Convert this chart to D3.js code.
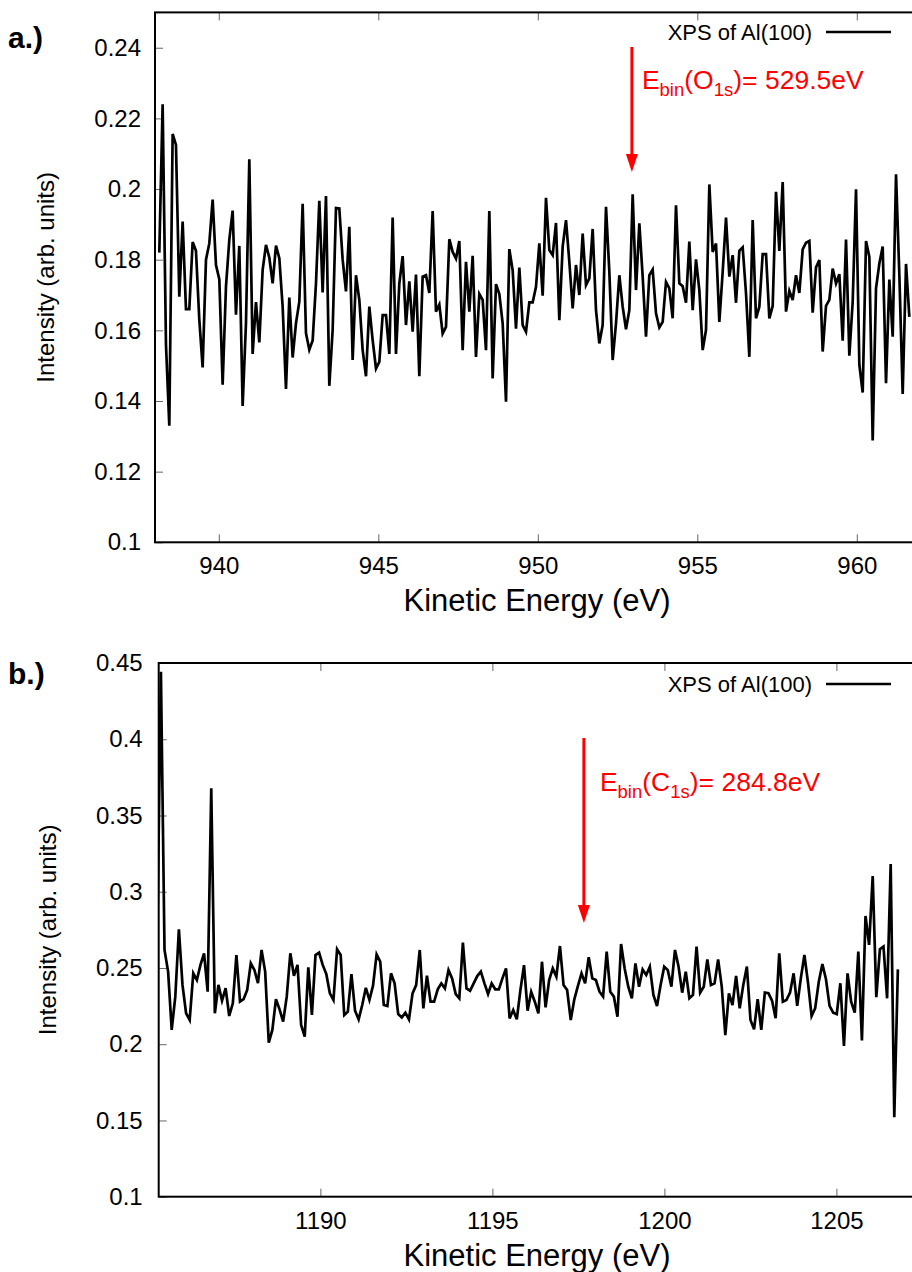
<!DOCTYPE html>
<html>
<head>
<meta charset="utf-8">
<script src="https://cdn.jsdelivr.net/npm/d3@7"></script>
<style>
  body { margin: 0; background: #fff; }
  svg { display: block; font-family: "Liberation Sans", Arial, sans-serif; }
</style>
</head>
<body>
<div class="canvas"></div>
<script>
// energy grid of the spectra (eV)
const stepEV = 0.1045;
const topStartEV = 938.135;
const bottomStartEV = 1185.26;

// a.) O1s region
const topIntensity = [
  0.182, 0.224, 0.156, 0.133, 0.2156, 0.2125, 0.1695, 0.1908, 0.166, 0.166,
  0.185, 0.1825, 0.163, 0.1495, 0.180, 0.1846, 0.197, 0.1785, 0.1745, 0.1446,
  0.1724, 0.1856, 0.1939, 0.1644, 0.1839, 0.1386, 0.162, 0.2084, 0.1533, 0.168,
  0.1566, 0.1771, 0.1842, 0.1806, 0.1733, 0.184, 0.1804, 0.1667, 0.1434, 0.1693,
  0.1523, 0.162, 0.1681, 0.1958, 0.1592, 0.1545, 0.1571, 0.1733, 0.1967, 0.1707,
  0.198, 0.1443, 0.1601, 0.1946, 0.1945, 0.180, 0.171, 0.1893, 0.1516, 0.1756,
  0.1686, 0.1544, 0.147, 0.1667, 0.1572, 0.1492, 0.1511, 0.1643, 0.1643, 0.1533,
  0.1919, 0.1533, 0.1733, 0.181, 0.1615, 0.1739, 0.1596, 0.1758, 0.147, 0.1752,
  0.1756, 0.1706, 0.1938, 0.1653, 0.1673, 0.1591, 0.161, 0.1858, 0.1822, 0.1803,
  0.1853, 0.1544, 0.1794, 0.1653, 0.1811, 0.1525, 0.1703, 0.1686, 0.1544, 0.1938,
  0.1464, 0.1731, 0.1703, 0.162, 0.1398, 0.183, 0.177, 0.1605, 0.1778, 0.1615,
  0.1596, 0.1679, 0.1679, 0.1723, 0.1846, 0.1698, 0.1975, 0.1827, 0.1813, 0.1904,
  0.1629, 0.1837, 0.1912, 0.1794, 0.1662, 0.1785, 0.17, 0.1874, 0.1728, 0.1747,
  0.1887, 0.1657, 0.1563, 0.1615, 0.195, 0.1766, 0.1516, 0.162, 0.1756, 0.1667,
  0.1603, 0.1657, 0.1985, 0.1714, 0.1903, 0.1752, 0.1582, 0.1756, 0.1772, 0.1648,
  0.1608, 0.1624, 0.1737, 0.1719, 0.1634, 0.1954, 0.1733, 0.1725, 0.1678, 0.1851,
  0.1657, 0.1801, 0.1714, 0.1544, 0.1601, 0.2013, 0.1822, 0.1846, 0.1624, 0.1765,
  0.1919, 0.1752, 0.1813, 0.1678, 0.1825, 0.1835, 0.1705, 0.1525, 0.1912, 0.1634,
  0.1667, 0.1816, 0.1816, 0.1634, 0.1669, 0.1992, 0.1825, 0.202, 0.1653, 0.1712,
  0.1686, 0.1756, 0.1706, 0.1829, 0.1848, 0.1853, 0.165, 0.1778, 0.1799, 0.154,
  0.1669, 0.1686, 0.1775, 0.1733, 0.1759, 0.1571, 0.1857, 0.1528, 0.1681, 0.1999,
  0.1502, 0.1424, 0.1853, 0.1808, 0.1288, 0.1719, 0.1789, 0.1837, 0.145, 0.1744,
  0.1582, 0.2042, 0.1756, 0.142, 0.1788, 0.1638
];

// b.) C1s region
const bottomIntensity = [
  0.2727, 0.4443, 0.2618, 0.2476, 0.2094, 0.2312, 0.2754, 0.2389, 0.2203, 0.2159,
  0.2465, 0.2421, 0.252, 0.2596, 0.2345, 0.3678, 0.2203, 0.2389, 0.2286, 0.2367,
  0.2185, 0.2268, 0.2585, 0.2279, 0.2295, 0.2356, 0.2531, 0.2487, 0.24, 0.2618,
  0.2476, 0.201, 0.2094, 0.2295, 0.2229, 0.2148, 0.2312, 0.2596, 0.2448, 0.252,
  0.2126, 0.205, 0.2504, 0.2192, 0.2585, 0.2601, 0.252, 0.2461, 0.2334, 0.229,
  0.2623, 0.2585, 0.2191, 0.2213, 0.246, 0.222, 0.2163, 0.2257, 0.237, 0.229,
  0.2384, 0.2589, 0.2541, 0.2257, 0.225, 0.2465, 0.2399, 0.2198, 0.2176, 0.2207,
  0.2163, 0.2333, 0.2388, 0.2618, 0.2235, 0.2449, 0.2279, 0.2279, 0.236, 0.2399,
  0.2366, 0.2486, 0.2432, 0.2329, 0.2301, 0.2666, 0.2366, 0.2351, 0.2399, 0.2447,
  0.2476, 0.2399, 0.2329, 0.2399, 0.236, 0.236, 0.2432, 0.2497, 0.2169, 0.2224,
  0.2163, 0.2355, 0.2519, 0.222, 0.2344, 0.2279, 0.2202, 0.2541, 0.2242, 0.2421,
  0.2497, 0.2443, 0.2644, 0.2388, 0.2355, 0.2159, 0.2294, 0.2382, 0.2465, 0.2399,
  0.257, 0.2432, 0.2421, 0.2344, 0.2312, 0.2607, 0.2344, 0.2312, 0.218, 0.2657,
  0.2497, 0.2377, 0.2301, 0.253, 0.2377, 0.249, 0.2454, 0.2508, 0.2323, 0.225,
  0.2388, 0.2508, 0.2486, 0.2377, 0.2618, 0.2508, 0.2338, 0.2476, 0.2301, 0.2323,
  0.264, 0.2338, 0.2377, 0.2556, 0.2388, 0.2399, 0.2556, 0.238, 0.206, 0.2334,
  0.2257, 0.2448, 0.2236, 0.2389, 0.2509, 0.2159, 0.2098, 0.2295, 0.2094, 0.2338,
  0.2334, 0.2286, 0.217, 0.2596, 0.2279, 0.229, 0.2338, 0.2465, 0.2251, 0.2432,
  0.2585, 0.2404, 0.2185, 0.2236, 0.241, 0.2526, 0.2426, 0.2251, 0.2207, 0.2198,
  0.24, 0.1989, 0.2465, 0.2279, 0.2207, 0.2607, 0.2024, 0.2841, 0.2651, 0.3103,
  0.2308, 0.2623, 0.264, 0.2301, 0.3182, 0.1521, 0.2491
];

// tick values
const topXTicks = [940, 945, 950, 955, 960];
const topYTicks = [0.1, 0.12, 0.14, 0.16, 0.18, 0.2, 0.22, 0.24];
const bottomXTicks = [1190, 1195, 1200, 1205];
const bottomYTicks = [0.1, 0.15, 0.2, 0.25, 0.3, 0.35, 0.4, 0.45];

const svg = d3.select('.canvas')
    .append('svg')
    .attr('width', 912)
    .attr('height', 1272);

function drawPanel(p) {
    const x = d3.scaleLinear().domain(p.xDomain).range([p.left, p.right]);
    const y = d3.scaleLinear().domain(p.yDomain).range([p.bottom, p.top]);

    const g = svg.append('g');

    // clip for the data line
    g.append('clipPath').attr('id', p.id + '-clip')
      .append('rect')
        .attr('x', p.left).attr('y', p.top)
        .attr('width', p.right - p.left).attr('height', p.bottom - p.top);

    // axes (ticks point inwards, like gnuplot)
    const xAxis = d3.axisBottom(x).tickValues(p.xTicks).tickSize(-8).tickPadding(15)
        .tickFormat(d => d);
    const xTop = d3.axisTop(x).tickValues(p.xTicks).tickSize(-8).tickFormat('');
    const yAxis = d3.axisLeft(y).tickValues(p.yTicks).tickSize(-8).tickPadding(p.yPad)
        .tickFormat(d => String(d));

    g.append('g').attr('transform', `translate(0, ${p.bottom})`).call(xAxis);
    g.append('g').attr('transform', `translate(0, ${p.top})`).call(xTop);
    g.append('g').attr('transform', `translate(${p.left}, 0)`).call(yAxis);

    g.selectAll('.domain').remove();
    g.selectAll('.tick line').attr('stroke', '#666').attr('stroke-width', 1);
    g.selectAll('.tick text')
        .attr('fill', '#000')
        .style('font-size', '24px')
        .style('font-family', '"Liberation Sans", Arial, sans-serif');

    // frame
    g.append('rect')
        .attr('x', p.left).attr('y', p.top)
        .attr('width', p.right - p.left).attr('height', p.bottom - p.top)
        .attr('fill', 'none').attr('stroke', '#000').attr('stroke-width', 2);

    // spectrum
    const line = d3.line()
        .x((d, i) => x(p.startEV + i * stepEV))
        .y(d => y(d));

    g.append('path')
        .datum(p.values)
        .attr('clip-path', `url(#${p.id}-clip)`)
        .attr('d', line)
        .attr('fill', 'none')
        .attr('stroke', '#000')
        .attr('stroke-width', 2.7)
        .attr('stroke-linejoin', 'miter');

    // legend
    g.append('text')
        .attr('x', p.legendX).attr('y', p.legendY)
        .attr('text-anchor', 'end')
        .style('font-size', '22px')
        .text('XPS of Al(100)');
    g.append('line')
        .attr('x1', p.legendX + 14).attr('x2', p.legendX + 79)
        .attr('y1', p.legendY - 8).attr('y2', p.legendY - 8)
        .attr('stroke', '#000').attr('stroke-width', 2.7);

    // red arrow marking the binding energy
    const ax = x(p.arrowEV);
    const y0 = y(p.arrowFrom), y1 = y(p.arrowTo);
    g.append('line')
        .attr('x1', ax).attr('x2', ax)
        .attr('y1', y0).attr('y2', y1 - 14)
        .attr('stroke', '#ff0000').attr('stroke-width', 3);
    g.append('path')
        .attr('d', `M${ax - 6},${y1 - 18} L${ax + 6},${y1 - 18} L${ax},${y1} Z`)
        .attr('fill', '#ff0000');

    const t = g.append('text')
        .attr('x', ax + p.labelDx).attr('y', p.labelY)
        .attr('fill', '#ff0000')
        .style('font-size', '26.5px');
    t.append('tspan').text('E');
    t.append('tspan').attr('dy', 7).style('font-size', '18.5px').text('bin');
    t.append('tspan').attr('dy', -7).text('(' + p.orbital);
    t.append('tspan').attr('dy', 7).style('font-size', '18.5px').text('1s');
    t.append('tspan').attr('dy', -7).text(')= ' + p.bindingLabel);

    // axis titles
    g.append('text')
        .attr('x', p.titleX).attr('y', p.xTitleY)
        .attr('text-anchor', 'middle')
        .style('font-size', '31px')
        .text('Kinetic Energy (eV)');
    g.append('text')
        .attr('transform', `translate(${p.yTitleX}, ${(p.top + p.bottom) / 2}) rotate(-90)`)
        .attr('text-anchor', 'middle')
        .style('font-size', '24px')
        .text('Intensity (arb. units)');

    // panel label
    g.append('text')
        .attr('x', 8).attr('y', p.panelY)
        .style('font-size', '30px')
        .style('font-weight', 'bold')
        .text(p.panel);
}

drawPanel({
    id: 'a', panel: 'a.)', panelY: 48,
    left: 155, right: 920.6, top: 12.4, bottom: 542.3,
    xDomain: [938, 962], yDomain: [0.1, 0.25],
    xTicks: topXTicks, yTicks: topYTicks, yPad: 14,
    startEV: topStartEV, values: topIntensity,
    legendX: 812, legendY: 40,
    arrowEV: 952.95, arrowFrom: 0.2402, arrowTo: 0.2048,
    labelDx: 10, labelY: 89, orbital: 'O', bindingLabel: '529.5eV',
    xTitleY: 611, yTitleX: 54, titleX: 537
});

drawPanel({
    id: 'b', panel: 'b.)', panelY: 684,
    left: 158.7, right: 922.4, top: 663, bottom: 1196.7,
    xDomain: [1185.3, 1207.5], yDomain: [0.1, 0.45],
    xTicks: bottomXTicks, yTicks: bottomYTicks, yPad: 16,
    startEV: bottomStartEV, values: bottomIntensity,
    legendX: 812, legendY: 692,
    arrowEV: 1197.66, arrowFrom: 0.4008, arrowTo: 0.2795,
    labelDx: 16, labelY: 791, orbital: 'C', bindingLabel: '284.8eV',
    xTitleY: 1266, yTitleX: 56, titleX: 537
});
</script>
</body>
</html>
